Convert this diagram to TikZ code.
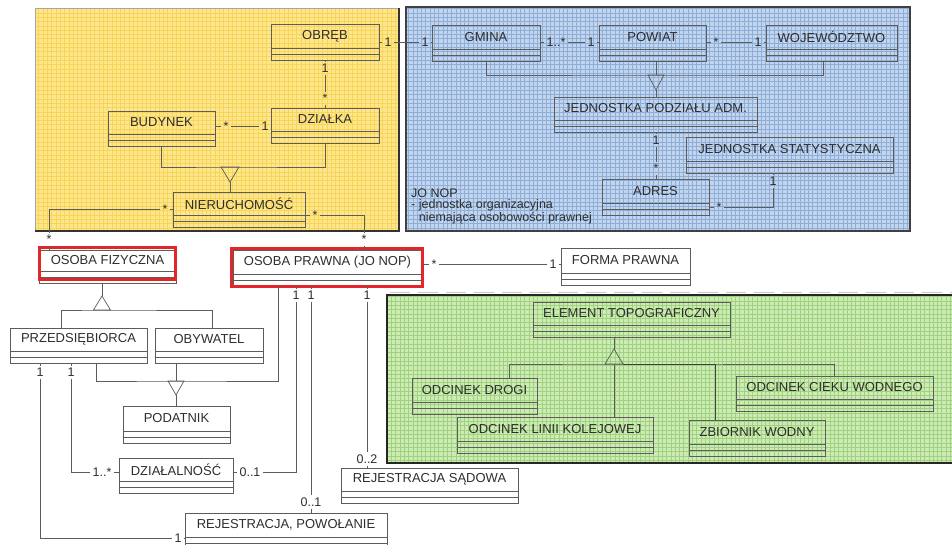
\documentclass[tikz,border=0pt]{standalone}
\usepackage{fontspec}
\setmainfont{Liberation Sans}
\usetikzlibrary{calc,fit}

\definecolor{ink}{HTML}{2E2E2E}
\definecolor{boxline}{HTML}{5C5C5C}
\definecolor{redframe}{HTML}{E3262A}
\definecolor{yfill}{HTML}{FDE68C}
\definecolor{ygrid}{HTML}{F7D45A}
\definecolor{bfill}{HTML}{C2D5ED}
\definecolor{bgrid}{HTML}{8EAEDA}
\definecolor{gfill}{HTML}{CFEBB5}
\definecolor{ggrid}{HTML}{9ED27F}
\definecolor{dashgray}{HTML}{C8C8C8}

\tikzset{
  classbox/.style={draw=boxline, line width=0.8pt, inner sep=0pt, outer sep=0pt},
  classline/.style={draw=boxline, line width=0.7pt},
  classname/.style={font=\fontsize{13}{15}\selectfont, text=ink, inner sep=0pt},
  mult/.style={font=\fontsize{12.5}{14}\selectfont, text=ink, inner sep=2pt},
  assoc/.style={draw=boxline, line width=0.7pt},
  notetext/.style={font=\fontsize{12.5}{11}\selectfont, text=ink, inner sep=0pt, align=left},
  redbox/.style={draw=redframe, line width=3pt},
}

% UML class: name, north-west corner, south-east corner, title
\newcommand\umlclass[4]{%
  \coordinate (#1-nw) at #2;
  \coordinate (#1-se) at #3;
  \node[classbox, fit=(#1-nw)(#1-se)] (#1) {};
  \draw[classline] ($(#1.south west)+(0,-12)$) -- ($(#1.south east)+(0,-12)$);
  \draw[classline] ($(#1.south west)+(0,-6)$) -- ($(#1.south east)+(0,-6)$);
  \node[classname] (#1-name) at ($(#1.center)+(0,-6)$) {#4};
}

% hatched package panel: fill, grid colour, lower-left and upper-right (canvas pt)
\newcommand\gridpanel[4]{%
  \begin{scope}
    \fill[#1] #3 rectangle #4;
    \clip #3 rectangle #4;
    \draw[#2, line width=0.45pt, step=4.3pt] #3 grid #4;
  \end{scope}
}

\begin{document}
\begin{tikzpicture}[x=1pt, y=-1pt]
\useasboundingbox (0,0) rectangle (952,544);
\fill[white] (0,0) rectangle (952,544);

% ---------- panels ----------
\gridpanel{yfill}{ygrid}{(35pt,-231pt)}{(399pt,-8pt)}
\draw[line width=1pt, draw=gray!70] (35,231) -- (35,8) -- (399,8);
\draw[line width=1.6pt, draw=black!80] (399,8) -- (399,231) -- (35,231);

\gridpanel{bfill}{bgrid}{(406pt,-231pt)}{(910pt,-7pt)}
\draw[line width=1.3pt, draw=black!75] (406,7) rectangle (910,231);

\draw[dashgray, line width=1pt, dash pattern=on 20pt off 8pt] (390,292) -- (952,292);
\gridpanel{gfill}{ggrid}{(387pt,-463pt)}{(960pt,-295pt)}
\draw[line width=1.5pt, draw=black!85] (960,295) -- (387,295) -- (387,463) -- (960,463);

% ---------- classes: land register ----------
\umlclass{obreb}{(271,24)}{(379,60)}{OBRĘB}
\umlclass{dzialka}{(271,108)}{(379,143)}{DZIAŁKA}
\umlclass{budynek}{(108,111)}{(215,146)}{BUDYNEK}
\umlclass{nieruch}{(173,192)}{(305,227)}{NIERUCHOMOŚĆ}

% ---------- classes: administrative division ----------
\umlclass{gmina}{(432,25)}{(540,61)}{GMINA}
\umlclass{powiat}{(599,25)}{(706,61)}{POWIAT}
\umlclass{woj}{(766,25)}{(897,61)}{WOJEWÓDZTWO}
\umlclass{jpa}{(554,97)}{(757,132)}{JEDNOSTKA PODZIAŁU ADM.}
\umlclass{jstat}{(686,137)}{(893,173)}{JEDNOSTKA STATYSTYCZNA}
\umlclass{adres}{(602,179)}{(709,215)}{ADRES}
\node[notetext, anchor=north west] (jonop) at (411,189)
  {JO NOP\\- jednostka organizacyjna\\\hphantom{- }niemająca osobowości prawnej};

% ---------- classes: persons ----------
\umlclass{osobaf}{(39,250)}{(176,283)}{OSOBA FIZYCZNA}
\draw[redbox] (39.5,247.5) rectangle (175.5,279.5);
\umlclass{osobap}{(233,250)}{(422,286)}{OSOBA PRAWNA (JO NOP)}
\draw[redbox] (231.5,248.5) rectangle (422.5,286.5);
\umlclass{forma}{(561,248)}{(690,285)}{FORMA PRAWNA}
\umlclass{przed}{(10,328)}{(147,363)}{PRZEDSIĘBIORCA}
\umlclass{obyw}{(155,328)}{(263,363)}{OBYWATEL}
\umlclass{podatnik}{(123,406)}{(230,443)}{PODATNIK}
\umlclass{dzial}{(119,458)}{(233,493)}{DZIAŁALNOŚĆ}
\umlclass{rejpow}{(185,513)}{(387,549)}{REJESTRACJA, POWOŁANIE}
\umlclass{rejsad}{(341,468)}{(518,503)}{REJESTRACJA SĄDOWA}

% ---------- classes: topography ----------
\umlclass{elem}{(533,302)}{(730,337)}{ELEMENT TOPOGRAFICZNY}
\umlclass{drogi}{(412,378)}{(537,414)}{ODCINEK DROGI}
\umlclass{linii}{(457,417)}{(653,453)}{ODCINEK LINII KOLEJOWEJ}
\umlclass{cieku}{(736,376)}{(933,411)}{ODCINEK CIEKU WODNEGO}
\umlclass{zbior}{(689,420)}{(825,456)}{ZBIORNIK WODNY}

% ---------- generalisations ----------
% building / parcel -> property
\coordinate (ytri) at (230,167);
\coordinate (yapex) at (230,182);
\draw[assoc] (budynek.south) |- (ytri) -| (dzialka.south);
\draw[assoc] ($(ytri)+(-9,0)$) -- ($(ytri)+(9,0)$) -- (yapex) -- cycle;
\draw[assoc] (yapex) -- (nieruch.north -| yapex);

% gmina / powiat / wojewodztwo -> administrative unit
\coordinate (btri) at (656,75);
\coordinate (bapex) at (656,90);
\coordinate (wjdrop) at (823,61);
\draw[assoc] (gmina.south) |- (btri) -| (wjdrop);
\draw[assoc] (powiat.south -| btri) -- (btri);
\draw[assoc] ($(btri)+(-8,0)$) -- ($(btri)+(8,0)$) -- (bapex) -- cycle;
\draw[assoc] (bapex) -- (jpa.north -| bapex);

% natural person -> entrepreneur / citizen
\coordinate (ftri) at (102,310);
\coordinate (fapex) at (102,296);
\coordinate (pztop) at (61,328);
\coordinate (obtop) at (212,328);
\draw[assoc] (osobaf.south -| fapex) -- (fapex);
\draw[assoc] (pztop) |- (ftri) -| (obtop);
\draw[assoc] ($(ftri)+(-8.5,0)$) -- ($(ftri)+(8.5,0)$) -- (fapex) -- cycle;

% entrepreneur / citizen / legal person -> taxpayer
\coordinate (ptri) at (176,381);
\coordinate (papex) at (176,395);
\coordinate (pzbot) at (96,363);
\coordinate (opgen) at (278,286);
\draw[assoc] (pzbot) |- (ptri) -| (opgen);
\draw[assoc] (obyw.south -| ptri) -- (ptri);
\draw[assoc] ($(ptri)+(-8,0)$) -- ($(ptri)+(8,0)$) -- (papex) -- cycle;
\draw[assoc] (papex) -- (podatnik.north -| papex);

% topographic element subtypes
\coordinate (gtri) at (614,364);
\coordinate (gapex) at (614,349);
\coordinate (drtop) at (509,378);
\coordinate (cktop) at (834,376);
\coordinate (zbtop) at (715,420);
\draw[assoc] (elem.south -| gapex) -- (gapex);
\draw[assoc] (drtop) |- (gtri) -| (cktop);
\draw[assoc, draw=black!75] ($(gtri)+(9,0)$) -| (zbtop);
\draw[assoc] (gtri) -- (linii.north -| gtri);
\draw[assoc] ($(gtri)+(-9,0)$) -- ($(gtri)+(9,0)$) -- (gapex) -- cycle;

% ---------- associations ----------
% OBRĘB - GMINA
\node[mult] (mobg1) at (388,42) {1};
\node[mult] (mobg2) at (425,42) {1};
\draw[assoc] (obreb.east |- mobg1) -- (mobg1.west) (mobg1.east) -- (mobg2.west)
             (mobg2.east) -- (gmina.west |- mobg2);

% GMINA - POWIAT
\node[mult] (mgp1) at (556,42) {1..*};
\node[mult] (mgp2) at (591,42) {1};
\draw[assoc] (gmina.east |- mgp1) -- (mgp1.west) (mgp1.east) -- (mgp2.west)
             (mgp2.east) -- (powiat.west |- mgp2);

% POWIAT - WOJEWÓDZTWO
\node[mult] (mpw1) at (716,42) {*};
\node[mult] (mpw2) at (758,42) {1};
\draw[assoc] (powiat.east |- mpw1) -- (mpw1.west) (mpw1.east) -- (mpw2.west)
             (mpw2.east) -- (woj.west |- mpw2);

% OBRĘB - DZIAŁKA
\node[mult] (mod1) at (325,68) {1};
\node[mult] (mod2) at (325,98) {*};
\draw[assoc] (obreb.south -| mod1) -- (mod1.north) (mod1.south) -- (mod2.north)
             (mod2.south) -- (dzialka.north -| mod2);

% BUDYNEK - DZIAŁKA
\node[mult] (mbd1) at (226,126) {*};
\node[mult] (mbd2) at (265,126) {1};
\draw[assoc] (budynek.east |- mbd1) -- (mbd1.west) (mbd1.east) -- (mbd2.west)
             (mbd2.east) -- (dzialka.west |- mbd2);

% NIERUCHOMOŚĆ - OSOBA FIZYCZNA
\node[mult] (mnf1) at (165,209) {*};
\node[mult] (mnf2) at (49,239) {*};
\draw[assoc] (nieruch.west |- mnf1) -- (mnf1.east) (mnf1.west) -| (mnf2.north)
             (mnf2.south) -- (osobaf.north -| mnf2);

% NIERUCHOMOŚĆ - OSOBA PRAWNA
\node[mult] (mnp1) at (315,215) {*};
\node[mult] (mnp2) at (364,239) {*};
\draw[assoc] (nieruch.east |- mnp1) -- (mnp1.west) (mnp1.east) -| (mnp2.north)
             (mnp2.south) -- (osobap.north -| mnp2);

% JEDNOSTKA PODZIAŁU ADM. - ADRES
\node[mult] (mja1) at (656,140) {1};
\node[mult] (mja2) at (656,168) {*};
\draw[assoc] (jpa.south -| mja1) -- (mja1.north) (mja1.south) -- (mja2.north)
             (mja2.south) -- (adres.north -| mja2);

% ADRES - JEDNOSTKA STATYSTYCZNA
\node[mult] (mas1) at (719,207) {*};
\node[mult] (mas2) at (773,181) {1};
\draw[assoc] (adres.east |- mas1) -- (mas1.west) (mas1.east) -| (mas2.south)
             (mas2.north) -- (jstat.south -| mas2);

% OSOBA PRAWNA - FORMA PRAWNA
\node[mult] (mof1) at (434,264) {*};
\node[mult] (mof2) at (553,264) {1};
\draw[assoc] (osobap.east |- mof1) -- (mof1.west) (mof1.east) -- (mof2.west)
             (mof2.east) -- (forma.west |- mof2);

% PRZEDSIĘBIORCA - DZIAŁALNOŚĆ
\coordinate (pzb2) at (71,363);
\node[mult] (mpd1) at (71,372) {1};
\node[mult] (mpd2) at (102,472) {1..*};
\draw[assoc] (pzb2) -- (mpd1.north) (mpd1.south) |- (mpd2.west)
             (mpd2.east) -- (dzial.west |- mpd2);

% PRZEDSIĘBIORCA - REJESTRACJA, POWOŁANIE
\coordinate (pzb1) at (40,363);
\node[mult] (mpr1) at (40,372) {1};
\node[mult] (mpr2) at (178,538) {1};
\draw[assoc] (pzb1) -- (mpr1.north) (mpr1.south) |- (mpr2.west)
             (mpr2.east) -- (rejpow.west |- mpr2);

% OSOBA PRAWNA - DZIAŁALNOŚĆ
\coordinate (opb1) at (296,286);
\node[mult] (mod3) at (296,295) {1};
\node[mult] (mod4) at (250,472) {0..1};
\draw[assoc] (opb1) -- (mod3.north) (mod3.south) |- (mod4.east)
             (mod4.west) -- (dzial.east |- mod4);

% OSOBA PRAWNA - REJESTRACJA, POWOŁANIE
\coordinate (opb2) at (311,286);
\node[mult] (mor1) at (311,295) {1};
\node[mult] (mor2) at (311,502) {0..1};
\draw[assoc] (opb2) -- (mor1.north) (mor1.south) -- (mor2.north)
             (mor2.south) -- (rejpow.north -| mor2);

% OSOBA PRAWNA - REJESTRACJA SĄDOWA
\coordinate (opb3) at (367,286);
\node[mult] (mos1) at (367,295) {1};
\node[mult] (mos2) at (367,459) {0..2};
\draw[assoc] (opb3) -- (mos1.north) (mos1.south) -- (mos2.north)
             (mos2.south) -- (rejsad.north -| mos2);

\end{tikzpicture}
\end{document}
